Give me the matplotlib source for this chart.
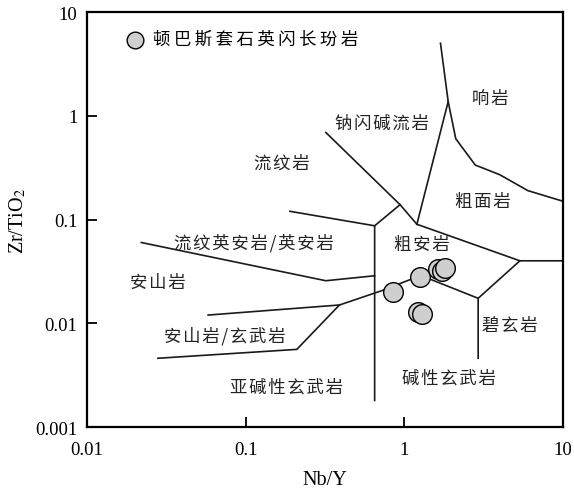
import matplotlib
matplotlib.use("Agg")
import matplotlib.pyplot as plt

plt.rcParams['font.family'] = ['Liberation Serif', 'Noto Sans CJK SC', 'DejaVu Sans']
plt.rcParams['mathtext.fontset'] = 'stix'

# sample points (Nb/Y, Zr/TiO2)
nb_y = [0.85, 1.25, 1.64, 1.74, 1.80, 1.22, 1.30]
zr_ti = [0.020, 0.028, 0.033, 0.032, 0.034, 0.0128, 0.0123]
sample_name = "顿巴斯套石英闪长玢岩"

# field boundaries (Winchester & Floyd 1977)
b_phonolite = [(1.69, 5.0), (1.89, 1.37), (2.11, 0.60), (2.8, 0.335), (4.0, 0.27), (6.0, 0.19), (10, 0.15)]
b_comendite = [(1.89, 1.37), (1.2, 0.09)]
b_rhyolite = [(0.32, 0.69), (0.94, 0.139), (1.2, 0.09)]
b_dacite = [(0.94, 0.139), (0.65, 0.087), (0.65, 0.0018)]
b_dacite2 = [(0.19, 0.12), (0.65, 0.087)]
b_trachyte = [(1.2, 0.09), (5.35, 0.040), (10, 0.040)]
b_basanite = [(5.35, 0.040), (2.92, 0.0174), (2.92, 0.0046)]
b_trachyand = [(2.92, 0.0174), (1.27, 0.0289), (0.72, 0.0206), (0.39, 0.015), (0.058, 0.012)]
b_andbas = [(0.028, 0.0046), (0.21, 0.0056), (0.39, 0.015)]
b_andesite = [(0.022, 0.060), (0.32, 0.0257), (0.65, 0.0287)]
boundaries = [b_phonolite, b_comendite, b_rhyolite, b_dacite, b_dacite2,
              b_trachyte, b_basanite, b_trachyand, b_andbas, b_andesite]

field_names = ["响岩", "钠闪碱流岩", "流纹岩", "粗面岩", "流纹英安岩/英安岩", "粗安岩",
               "安山岩", "安山岩/玄武岩", "碧玄岩", "碱性玄武岩", "亚碱性玄武岩"]
field_pos = [(3.5, 1.47), (0.72, 0.86), (0.17, 0.356), (3.14, 0.152), (0.113, 0.0607), (1.28, 0.058),
             (0.028, 0.0248), (0.074, 0.0077), (4.6, 0.0098), (1.9, 0.0030), (0.18, 0.00243)]

xticks = [0.01, 0.1, 1, 10]
xtick_labels = ["0.01", "0.1", "1", "10"]
yticks = [0.001, 0.01, 0.1, 1, 10]
ytick_labels = ["0.001", "0.01", "0.1", "1", "10"]


def spaced(s, sep):
    # the original uses wide letter spacing
    return sep.join(s)


fig = plt.figure(figsize=(5.74, 4.89), dpi=100)
ax = fig.add_axes([0.1516, 0.1247, 0.8292, 0.8487])
ax.set_xscale('log')
ax.set_yscale('log')
ax.set_xlim(0.01, 10)
ax.set_ylim(0.001, 10)

for line in boundaries:
    ax.plot([p[0] for p in line], [p[1] for p in line], color='#1a1a1a', lw=1.2, zorder=2)

for name, (x, y) in zip(field_names, field_pos):
    ax.text(x, y, spaced(name, '\u200a'), ha='center', va='center', fontsize=12.5,
            family=['Noto Sans CJK SC', 'DejaVu Sans'], color='#222222')

ax.scatter(nb_y, zr_ti, s=200, facecolor='#cfcfcf', edgecolor='black', lw=1.0, zorder=3,
           label=spaced(sample_name, '\u2009'))

leg = ax.legend(loc='upper left', bbox_to_anchor=(0.05, 0.973), frameon=False,
                prop={'family': ['Noto Sans CJK SC', 'DejaVu Sans'], 'size': 12.5}, markerscale=0.85,
                handletextpad=0.05, borderaxespad=0)

ax.set_xticks(xticks)
ax.set_xticklabels(xtick_labels)
ax.set_yticks(yticks)
ax.set_yticklabels(ytick_labels)
ax.minorticks_off()
ax.tick_params(direction='in', length=7, width=1.3, labelsize=13.5)
ax.tick_params(axis='x', pad=10)
ax.tick_params(axis='y', pad=7)
for s in ax.spines.values():
    s.set_linewidth(1.6)

ax.set_xlabel("Nb/Y", fontsize=14.5, labelpad=9)
ax.set_ylabel("Zr/TiO$_2$", fontsize=14.5, labelpad=5)

fig.savefig("out.png", dpi=100)
